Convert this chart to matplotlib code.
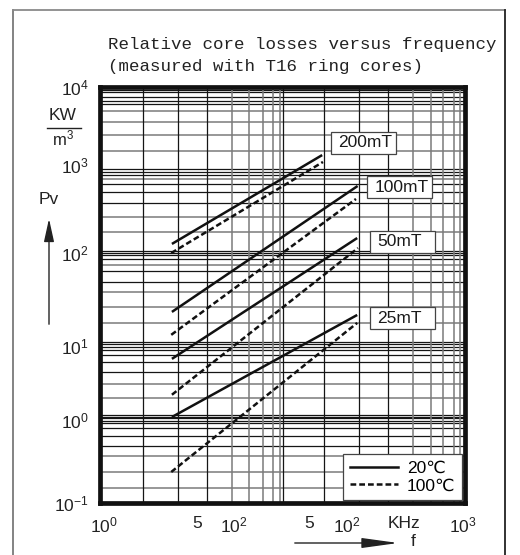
import matplotlib
matplotlib.use("Agg")
import matplotlib.pyplot as plt
from matplotlib.lines import Line2D
from matplotlib.patches import Rectangle

plt.rcParams['font.family'] = ['Liberation Sans', 'DejaVu Sans']
plt.rcParams['mathtext.fontset'] = 'custom'
plt.rcParams['mathtext.rm'] = 'Liberation Sans'
plt.rcParams['mathtext.it'] = 'Liberation Sans'
plt.rcParams['mathtext.bf'] = 'Liberation Sans'

# ---------------- data ----------------
flux_labels = ['200mT', '100mT', '50mT', '25mT']
freq_start_20 = [3.9, 3.9, 3.9, 3.9]
freq_end_20 = [67, 131, 130, 130]
pv_start_20 = [130, 19.8, 5.4, 1.08]
pv_end_20 = [1520, 646, 153, 18.2]
freq_start_100 = [3.85, 3.85, 3.9, 3.85]
freq_end_100 = [68, 127, 132, 130]
pv_start_100 = [101, 10.5, 2.0, 0.236]
pv_end_100 = [1256, 451, 116, 14.6]
legend_labels = ['20\u2103', '100\u2103']

x_tick_labels = ['$10^0$', '5', '$10^2$', '5', '$10^2$', 'KHz', '$10^3$']
y_tick_labels = ['$10^{-1}$', '$10^0$', '$10^1$', '$10^2$', '$10^3$', '$10^4$']

# ---------------- layout / style ----------------
W, H = 520, 555
# tick positions as exponents (axis drawn as in the original sheet)
x_tick_exp = [0.03, 0.80, 1.10, 1.72, 2.03, 2.50, 2.98]
y_tick_exp = [-1.0, 0.0, 0.89, 2.0, 3.06, 4.0]

# grid line exponents (reproducing the printed grid)
hgrid_black = [3.964, 3.940, 3.880, 3.832, 3.796, 3.014, 2.978, 2.942,
               2.834, 2.738, 2.606, 2.029, 2.005, 1.981, 1.933, 1.788, 1.656,
               0.935, 0.911, 0.875, 0.839, 0.779, 0.695, 0.575, 0.058, 0.034,
               0.022, -0.014, -0.038, -0.099, -0.195, -0.315]
hgrid_gray = [3.712, 3.579, 3.423, 3.231, 2.894, 2.438, 2.257, 1.861, 1.536,
              1.356, 1.163, 0.430, 0.262, -0.435, -0.627, -0.820]
vgrid_black = [0.353, 0.641, 0.879, 1.504, 1.841, 2.129, 2.367]
vgrid_gray = [1.085, 1.225, 1.340, 1.422, 1.480, 2.573, 2.721, 2.819, 2.910, 2.959]

label_boxes = [(0.633, 0.839), (0.732, 0.733), (0.740, 0.601), (0.740, 0.418)]
box_w, box_h = 0.178, 0.053

fig = plt.figure(figsize=(W / 100, H / 100), dpi=100)
ax = fig.add_axes([100 / W, 1 - 503 / H, 365 / W, 416 / H])
ax.set_xscale('log')
ax.set_yscale('log')
ax.set_xlim(1, 1000)
ax.set_ylim(0.1, 1e4)

for e in hgrid_gray:
    ax.axhline(10 ** e, color='#7a7a7a', lw=1.1, zorder=1)
for e in hgrid_black:
    ax.axhline(10 ** e, color='#151515', lw=0.9, zorder=1)
for e in vgrid_gray:
    ax.axvline(10 ** e, color='#7a7a7a', lw=1.1, zorder=1)
for e in vgrid_black:
    ax.axvline(10 ** e, color='#151515', lw=0.9, zorder=1)

dash = (0, (2.3, 1.2))
for i in range(len(flux_labels)):
    ax.plot([freq_start_20[i], freq_end_20[i]], [pv_start_20[i], pv_end_20[i]],
            color='#111111', lw=1.8, solid_capstyle='butt', zorder=3)
    ax.plot([freq_start_100[i], freq_end_100[i]], [pv_start_100[i], pv_end_100[i]],
            color='#111111', lw=1.8, ls=dash, zorder=3)
    bx, by = label_boxes[i]
    ax.add_patch(Rectangle((bx, by), box_w, box_h, transform=ax.transAxes,
                           fc='white', ec='#444444', lw=0.9, zorder=4))
    ax.text(bx + 0.020, by + box_h / 2, flux_labels[i], transform=ax.transAxes,
            ha='left', va='center', fontsize=12.5, color='#1a1a1a', zorder=5)

handles = [Line2D([], [], color='#111111', lw=1.8),
           Line2D([], [], color='#111111', lw=1.8, ls=dash)]
leg = ax.legend(handles, legend_labels, loc='lower right', fontsize=12.5,
                handlelength=2.8, handletextpad=0.5, borderpad=0.4,
                labelspacing=0.12, frameon=True, fancybox=False,
                edgecolor='#444444', framealpha=1, borderaxespad=0.15)
leg.get_frame().set_linewidth(0.9)
leg.set_zorder(6)

for s in ax.spines.values():
    s.set_linewidth(3.4)
    s.set_color('#111111')
    s.set_zorder(7)

ax.minorticks_off()
ax.set_xticks([10 ** e for e in x_tick_exp])
ax.set_xticklabels(x_tick_labels)
ax.set_yticks([10 ** e for e in y_tick_exp])
ax.set_yticklabels(y_tick_labels)
ax.tick_params(axis='both', length=0, labelsize=12.5, colors='#222222')
ax.tick_params(axis='x', pad=9)
ax.tick_params(axis='y', pad=8)


def fx(px):
    return px / W


def fy(py):
    return 1 - py / H


# title
fig.text(fx(108), fy(44), 'Relative core losses versus frequency',
         family='Liberation Mono', fontsize=12.6, color='#222222',
         ha='left', va='center')
fig.text(fx(108), fy(66), '(measured with T16 ring cores)',
         family='Liberation Mono', fontsize=12.6, color='#222222',
         ha='left', va='center')

# unit label KW / m3
fig.text(fx(63), fy(116), 'KW', fontsize=12.5, ha='center', va='center', color='#222222')
fig.add_artist(Line2D([fx(47), fx(81)], [fy(128), fy(128)], color='#222222', lw=1.0))
fig.text(fx(63), fy(138), 'm$^3$', fontsize=12, ha='center', va='center', color='#222222')

# Pv label and arrow
fig.text(fx(49), fy(199), 'Pv', fontsize=12.5, ha='center', va='center', color='#222222')
ax.annotate('', xy=(49, H - 216), xytext=(49, H - 327), xycoords='figure pixels',
            textcoords='figure pixels',
            arrowprops=dict(arrowstyle='-|>,head_length=1.0,head_width=0.22',
                            color='#222222', lw=1.0, mutation_scale=14))

# f arrow
ax.annotate('', xy=(401, H - 543), xytext=(292, H - 543), xycoords='figure pixels',
            textcoords='figure pixels',
            arrowprops=dict(arrowstyle='-|>,head_length=1.6,head_width=0.22',
                            color='#222222', lw=1.0, mutation_scale=14))
fig.text(fx(413), fy(541), 'f', fontsize=12.5, ha='center', va='center', color='#222222')

# outer frame
fig.add_artist(Line2D([fx(13), fx(13)], [fy(10), fy(555)], color='#7a7a7a', lw=1.3))
fig.add_artist(Line2D([fx(13), fx(505)], [fy(10), fy(10)], color='#8a8a8a', lw=1.3))
fig.add_artist(Line2D([fx(505), fx(505)], [fy(10), fy(555)], color='#222222', lw=1.3))

fig.savefig('out.png', dpi=100, facecolor='white')
